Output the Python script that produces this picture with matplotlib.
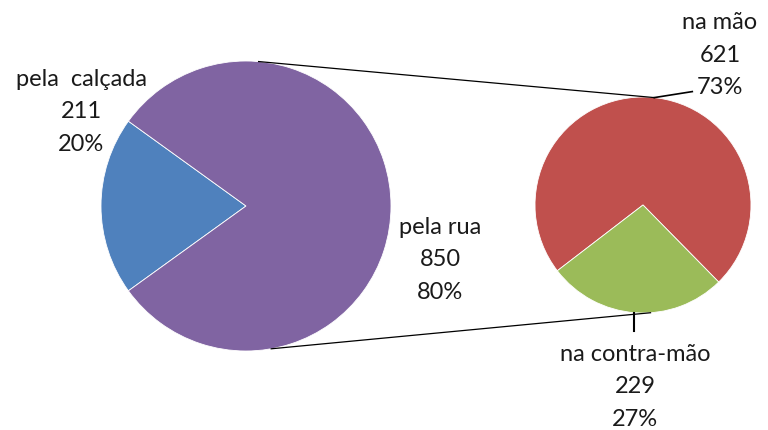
import numpy as np
import matplotlib
matplotlib.use('Agg')
import matplotlib.pyplot as plt

plt.rcParams['font.family'] = ['Lato', 'DejaVu Sans']

# data
main_labels = ['pela  calçada', 'pela rua']
main_values = [211, 850]
main_pcts = ['20%', '80%']
main_colors = ['#4F81BD', '#8064A2']

sub_labels = ['na mão', 'na contra-mão']
sub_values = [621, 229]
sub_pcts = ['73%', '27%']
sub_colors = ['#C0504D', '#9BBB59']

W, H = 768, 431
fig = plt.figure(figsize=(W / 100, H / 100), dpi=100)
ax = fig.add_axes([0, 0, 1, 1])

# geometry (pixel units, y from bottom)
c1, r1 = (246, H - 207), 145
c2, r2 = (643, H - 206), 108

# main pie: the split slice centred on the left side
f1 = main_values[0] / sum(main_values)
ax.pie(main_values, colors=main_colors, center=c1, radius=r1,
       startangle=180 - 180 * f1, counterclock=True,
       wedgeprops=dict(edgecolor='white', linewidth=0.6))

# secondary pie: smaller slice at the bottom
f2 = sub_values[1] / sum(sub_values)
ax.pie(sub_values, colors=sub_colors, center=c2, radius=r2,
       startangle=266 - 180 * f2 - 360 * (1 - f2), counterclock=True,
       wedgeprops=dict(edgecolor='white', linewidth=0.6))


def pt(c, r, deg):
    a = np.radians(deg)
    return c[0] + r * np.cos(a), c[1] + r * np.sin(a)


# connector lines between the pies
for a1, a2 in [(85, 84), (-80, -86)]:
    p, q = pt(c1, r1, a1), pt(c2, r2, a2)
    ax.plot([p[0], q[0]], [p[1], q[1]], color='black', lw=0.9)

# label leader lines
p = pt(c2, r2, 84)
ax.plot([p[0], p[0] + 38], [p[1], p[1] + 6], color='black', lw=1.2)
p = pt(c2, r2, -95)
ax.plot([p[0], p[0]], [p[1], p[1] - 18], color='black', lw=1.5)

fs = 17
ls = 1.65
tc = '#1a1a1a'
ax.text(81, H - 112, f'{main_labels[0]}\n{main_values[0]}\n{main_pcts[0]}',
        ha='center', va='center', fontsize=fs, linespacing=ls, color=tc)
ax.text(440, H - 260, f'{main_labels[1]}\n{main_values[1]}\n{main_pcts[1]}',
        ha='center', va='center', fontsize=fs, linespacing=ls, color=tc)
ax.text(720, H - 55, f'{sub_labels[0]}\n{sub_values[0]}\n{sub_pcts[0]}',
        ha='center', va='center', fontsize=fs, linespacing=ls, color=tc)
ax.text(635, H - 387, f'{sub_labels[1]}\n{sub_values[1]}\n{sub_pcts[1]}',
        ha='center', va='center', fontsize=fs, linespacing=ls, color=tc)

ax.set_xlim(0, W)
ax.set_ylim(0, H)
ax.set_aspect('equal')
ax.axis('off')

fig.savefig('out.png', dpi=100)
